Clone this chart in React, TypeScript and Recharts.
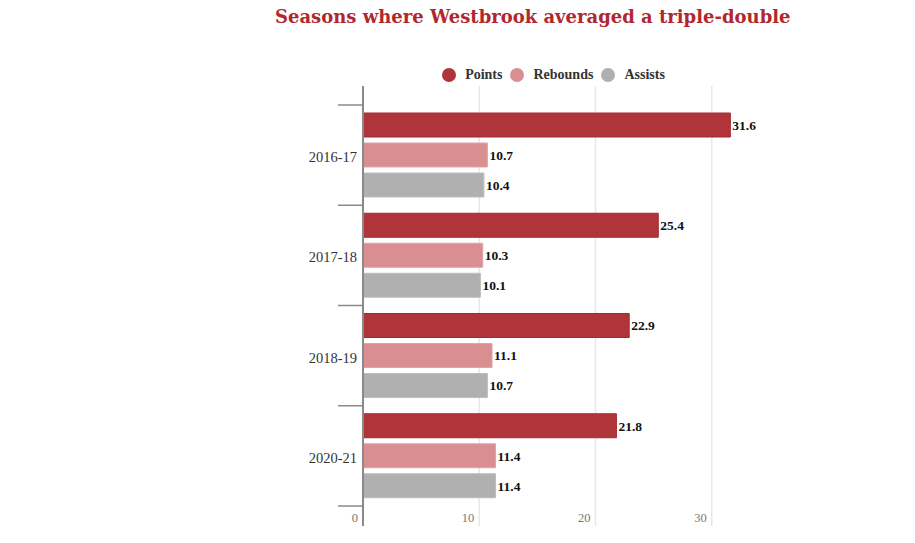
import { Bar, BarChart, CartesianGrid, LabelList, Legend, XAxis, YAxis } from "recharts"

const seasons = ["2016-17", "2017-18", "2018-19", "2020-21"]
const points = [31.6, 25.4, 22.9, 21.8]
const rebounds = [10.7, 10.3, 11.1, 11.4]
const assists = [10.4, 10.1, 10.7, 11.4]
const xTicks = [0, 10, 20, 30]

const series = [
  { key: "points", name: "Points", fill: "#b0353a", stroke: "#a52a30" },
  { key: "rebounds", name: "Rebounds", fill: "#d98f92", stroke: "#e3a3a5" },
  { key: "assists", name: "Assists", fill: "#b0b0b0", stroke: "#bdbdbd" },
]

const data = seasons.map((season, i) => ({
  season,
  points: points[i],
  rebounds: rebounds[i],
  assists: assists[i],
}))

const W = 915
const H = 543
const TOP = 86
const BOTTOM = 526
const PAD_TOP = 19
const PAD_BOTTOM = 20
const BAND = (BOTTOM - TOP - PAD_TOP - PAD_BOTTOM) / seasons.length
const SERIF = "'Liberation Serif', 'DejaVu Serif', Georgia, serif"
const TITLE_FONT = "'DejaVu Serif', Georgia, serif"

const SeasonTick = (props: any) => {
  const { x, y, payload, index } = props
  const last = index === seasons.length - 1
  return (
    <g>
      <line x1={x - 25} x2={x} y1={y - BAND / 2} y2={y - BAND / 2} stroke="#8a8a8a" strokeWidth={1.5} />
      {last && <line x1={x - 25} x2={x} y1={y + BAND / 2} y2={y + BAND / 2} stroke="#8a8a8a" strokeWidth={1.5} />}
      <text x={x - 6} y={y} dy={7} textAnchor="end" fontFamily={SERIF} fontSize={14.5} fill="#333">
        {payload.value}
      </text>
    </g>
  )
}

const ValueTick = (props: any) => {
  const { x, y, payload } = props
  return (
    <text x={x - 5} y={y - 4} textAnchor="end" fontFamily={SERIF} fontSize={12.5} fill="#777">
      {payload.value}
    </text>
  )
}

const LegendContent = () => (
  <div style={{ display: "flex", justifyContent: "center", paddingLeft: 200, fontFamily: SERIF, fontWeight: "bold", fontSize: 14, color: "#333" }}>
    {series.map((s) => (
      <div key={s.key} style={{ display: "flex", alignItems: "center", marginRight: 8 }}>
        <span style={{ width: 14, height: 14, borderRadius: 7, background: s.fill, marginRight: 9, display: "inline-block" }} />
        {s.name}
      </div>
    ))}
  </div>
)

export default function App() {
  return (
    <div style={{ position: "absolute", left: 0, top: 0, width: W, height: H, background: "#fff" }}>
      <div
        style={{
          position: "absolute",
          top: 6,
          left: 275,
          fontFamily: TITLE_FONT,
          fontWeight: "bold",
          fontSize: 18,
          color: "#b0282e",
          whiteSpace: "nowrap",
        }}
      >
        Seasons where Westbrook averaged a triple-double
      </div>
      <BarChart
        width={W}
        height={H}
        data={data}
        layout="vertical"
        margin={{ top: TOP, right: 180, bottom: H - BOTTOM - 1, left: 0 }}
        barCategoryGap={8}
        barGap={6}
      >
        <CartesianGrid horizontal={false} verticalValues={xTicks} stroke="#e8e8e8" strokeWidth={1.5} />
        <XAxis
          type="number"
          domain={[0, 32]}
          ticks={xTicks}
          height={1}
          axisLine={false}
          tickLine={false}
          tickSize={0}
          tickMargin={0}
          tick={<ValueTick />}
        />
        <YAxis
          type="category"
          dataKey="season"
          width={363}
          padding={{ top: PAD_TOP, bottom: PAD_BOTTOM }}
          axisLine={{ stroke: "#8a8a8a", strokeWidth: 2 }}
          tickLine={false}
          tickSize={0}
          tickMargin={0}
          tick={<SeasonTick />}
          interval={0}
        />
        <Legend
          verticalAlign="middle"
          align="center"
          wrapperStyle={{ top: 67, left: 0, width: W }}
          content={<LegendContent />}
        />
        {series.map((s) => (
          <Bar key={s.key} dataKey={s.key} name={s.name} fill={s.fill} stroke={s.stroke} strokeWidth={1} isAnimationActive={false}>
            <LabelList
              dataKey={s.key}
              position="right"
              offset={2}
              fontFamily={SERIF}
              fontWeight="bold"
              fontSize={13.5}
              fill="#111"
            />
          </Bar>
        ))}
      </BarChart>
    </div>
  )
}
